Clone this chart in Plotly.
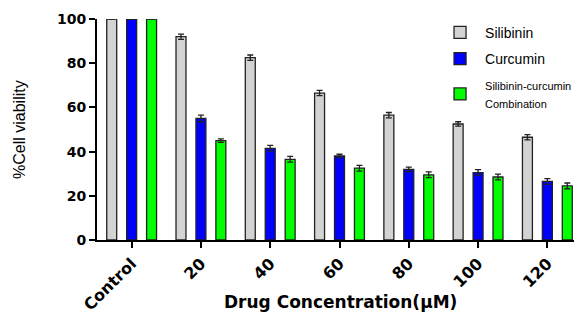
import plotly.graph_objects as go

categories = ["Control", "20", "40", "60", "80", "100", "120"]
silibinin = [100, 92, 82.5, 66.5, 56.5, 52.5, 46.5]
silibinin_err = [0, 1.2, 1.2, 1.2, 1.2, 1.0, 1.2]
curcumin = [100, 55, 41.5, 38, 32, 30.5, 26.5]
curcumin_err = [0, 1.5, 1.3, 0.8, 1.0, 1.3, 1.3]
combination = [100, 45, 36.5, 32.5, 29.5, 28.5, 24.5]
combination_err = [0, 0.8, 1.3, 1.3, 1.3, 1.3, 1.3]

series = [
    ("Silibinin", silibinin, silibinin_err, "#d3d3d3"),
    ("Curcumin", curcumin, curcumin_err, "#0000ff"),
    ("<span style='font-size:11px'>Silibinin-curcumin<br>Combination</span>", combination, combination_err, "#00ff00"),
]

fig = go.Figure()
for i, (name, vals, errs, col) in enumerate(series):
    fig.add_trace(go.Bar(
        x=categories, y=vals, name=name, legendgroup=str(i),
        marker=dict(color=col, line=dict(color="#222222", width=1.3)),
        error_y=dict(type="data", array=errs, visible=True, color="#222222", thickness=1.3, width=3),
    ))

arial = "Liberation Sans, Arial, sans-serif"
wide = "DejaVu Sans, Verdana, sans-serif"

# page body has an 8px margin, so the figure is sized to fit the 582x313 window
fig.update_layout(
    width=574, height=305,
    margin=dict(l=89, r=0, t=11, b=73, autoexpand=False),
    plot_bgcolor="white", paper_bgcolor="white",
    barmode="group", bargap=0.137, bargroupgap=0.5,
    font=dict(family=arial, color="black"),
    showlegend=True,
    legend=dict(x=0.697, y=1.01, xanchor="left", yanchor="top",
                font=dict(size=14, color="black", family=arial), bgcolor="rgba(0,0,0,0)",
                traceorder="grouped", tracegroupgap=5, itemwidth=40),
    xaxis=dict(
        range=[-0.5, 6.5], showline=True, linecolor="black", linewidth=2,
        ticks="outside", ticklen=6, tickwidth=2, tickcolor="black",
        tickangle=-45, tickfont=dict(size=16, family=wide, weight="bold"),
        showgrid=False, zeroline=False, automargin=False,
    ),
    yaxis=dict(
        range=[0, 100], dtick=20, showline=True, linecolor="black", linewidth=2,
        ticks="outside", ticklen=6, tickwidth=2, tickcolor="black",
        tickfont=dict(size=14, family=wide, weight="bold"),
        showgrid=False, zeroline=False, automargin=False,
    ),
    annotations=[
        dict(text="<b>Drug Concentration(µM)</b>", xref="paper", yref="paper",
             x=(340 - 97) / 485, y=(240 - 302) / 221, xanchor="center", yanchor="middle",
             showarrow=False, font=dict(size=17, family=wide, color="black")),
        dict(text="%Cell viability", xref="paper", yref="paper",
             x=(19 - 97) / 485, y=(240 - 130) / 221, xanchor="center", yanchor="middle",
             textangle=-90, showarrow=False, font=dict(size=16, family=arial, color="black")),
    ],
)

fig.write_html("out.html")
